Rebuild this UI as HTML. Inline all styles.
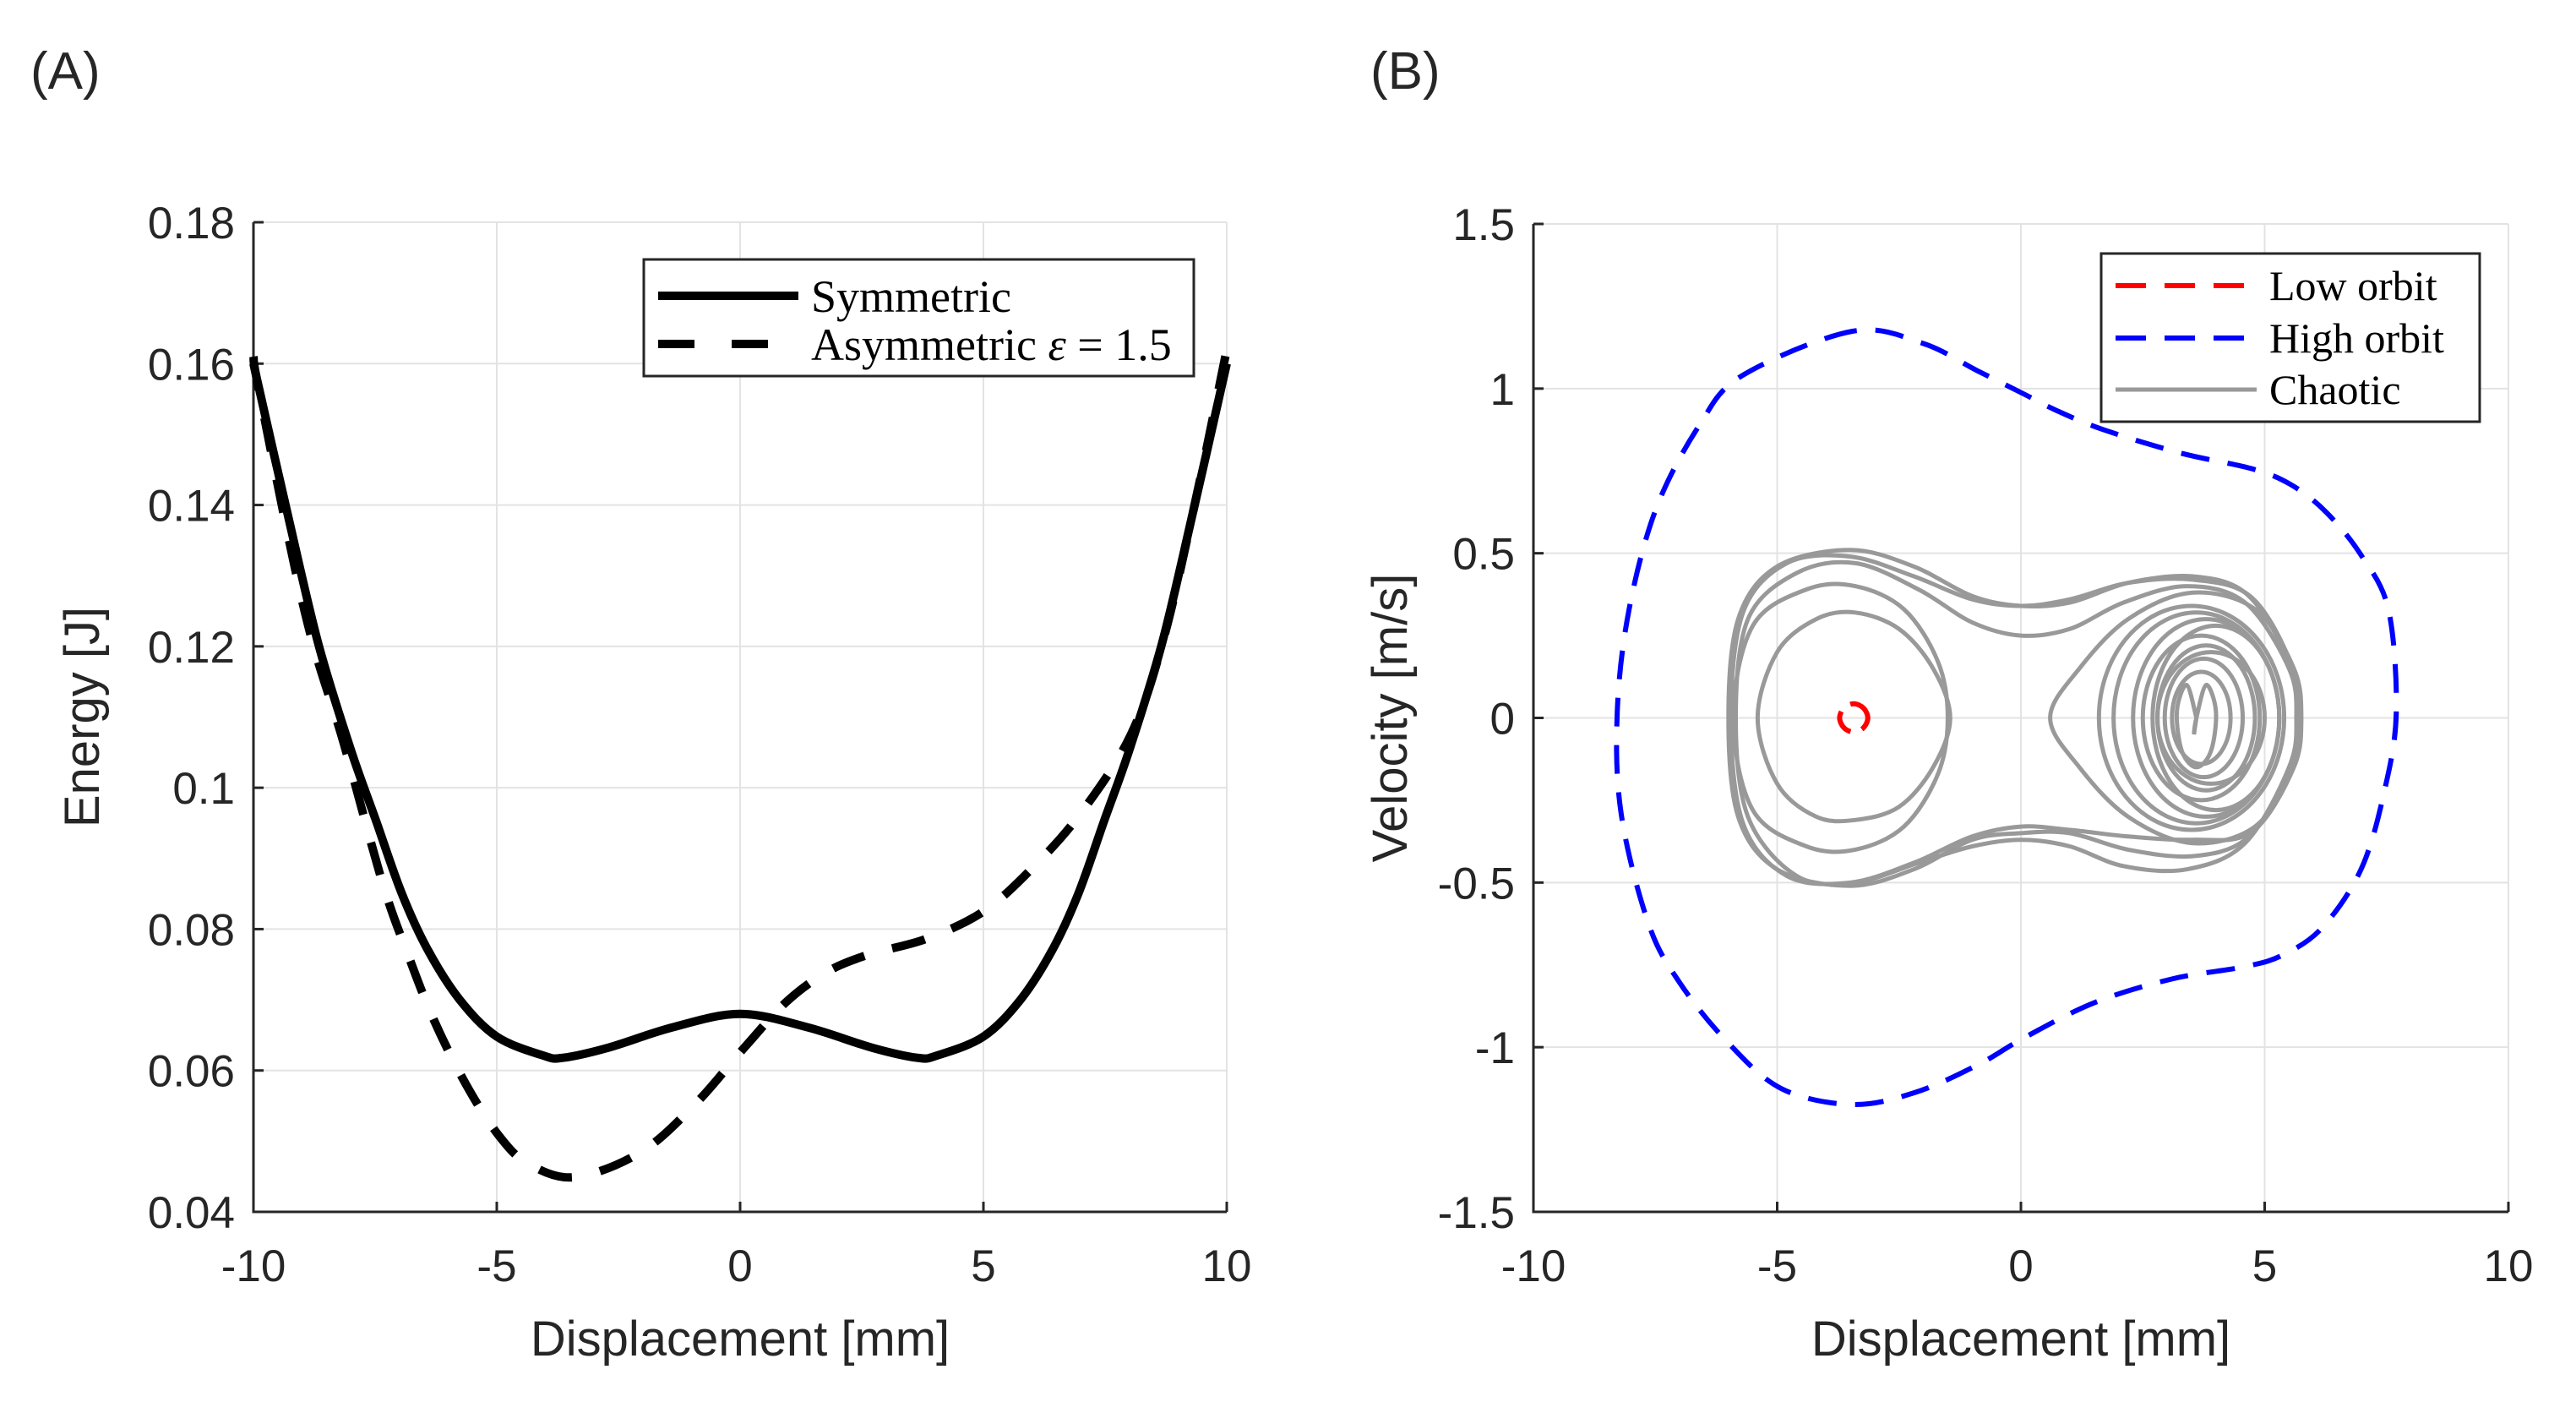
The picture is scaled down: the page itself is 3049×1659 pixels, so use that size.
<!DOCTYPE html>
<html><head><meta charset="utf-8"><style>
html,body{margin:0;padding:0;background:#fff;}
svg{display:block;}
text{font-family:"Liberation Sans",sans-serif;fill:#262626;}
.serif{font-family:"Liberation Serif",serif;fill:#000;}
</style></head><body>
<svg id="fig" width="3049" height="1659" viewBox="0 0 3049 1659" xmlns="http://www.w3.org/2000/svg">
<text x="36" y="105" font-size="62">(A)</text>
<text x="1622" y="105" font-size="62">(B)</text>
<g id="pa"></g>
<g id="pb"></g>
</svg>
<script>
// Panel A data
const aXTicks = [-10, -5, 0, 5, 10];
const aYTicks = [0.04, 0.06, 0.08, 0.1, 0.12, 0.14, 0.16, 0.18];
const aYTickLabels = ["0.04","0.06","0.08","0.1","0.12","0.14","0.16","0.18"];
const symX = [-10,-9.34,-8.68,-8.01,-7.48,-6.95,-6.42,-5.76,-5.0,-4.04,-3.64,-2.72,-1.39,0,1.39,2.72,3.64,4.04,5.0,5.76,6.42,6.95,7.48,8.01,8.68,9.34,10];
const symY = [0.16,0.14,0.1207,0.1056,0.0953,0.085,0.0771,0.070,0.0648,0.0621,0.0618,0.0632,0.0661,0.068,0.0661,0.0632,0.0618,0.0621,0.0648,0.070,0.0771,0.085,0.0953,0.1056,0.1207,0.14,0.16];
const asymX = [-10,-9.87,-8.94,-8.15,-7.35,-6.82,-6.29,-5.63,-4.97,-4.37,-3.41,-2.05,-0.93,0.07,0.95,1.8,2.64,3.82,5,6,7,8.03,8.7,9.37,10];
const asymY = [0.161,0.1556,0.1247,0.1064,0.0866,0.0763,0.0671,0.058,0.0509,0.0469,0.0449,0.0484,0.0552,0.0631,0.0697,0.074,0.0764,0.0786,0.0825,0.0886,0.0964,0.1075,0.121,0.141,0.162];
// Panel B data
const bXTicks = [-10, -5, 0, 5, 10];
const bYTicks = [-1.5, -1, -0.5, 0, 0.5, 1, 1.5];
const bYTickLabels = ["-1.5","-1","-0.5","0","0.5","1","1.5"];
const highX = [-3.46,-5.71,-6.6,-7.48,-8.04,-8.28,-8.2,-7.64,-7.0,-6.03,-4.91,-3.46,-2.18,-0.89,0.07,1.52,3.12,4.57,5.37,6.18,6.98,7.46,7.7,7.54,6.98,6.26,5.53,4.73,3.28,1.68,0.71,0.07,-0.89,-2.02];
const highY = [1.174,1.04,0.888,0.637,0.328,0.018,-0.292,-0.625,-0.804,-0.983,-1.126,-1.174,-1.138,-1.054,-0.971,-0.864,-0.792,-0.756,-0.72,-0.637,-0.459,-0.22,0.018,0.328,0.494,0.625,0.709,0.757,0.804,0.876,0.935,0.983,1.054,1.138];
const lowX = [-3.14,-3.23,-3.43,-3.63,-3.72,-3.63,-3.43,-3.23];
const lowY = [0,0.03,0.043,0.03,0,-0.03,-0.043,-0.03];
const outer1X = [-6.0,-5.8,-5.0,-3.5,-2.2,-1,0,1,2.2,3.5,4.6,5.4,5.7,5.4,4.6,3.5,2.2,1,0,-1,-2.2,-3.5,-5,-5.8];
const outer1Y = [0,0.3,0.46,0.51,0.46,0.37,0.34,0.35,0.41,0.43,0.38,0.2,0,-0.2,-0.37,-0.42,-0.40,-0.35,-0.35,-0.37,-0.46,-0.51,-0.46,-0.3];
const outer2X = [-5.85,-5.6,-4.6,-3.4,-2.1,-1,0,1,2.1,3.4,4.6,5.5,5.65,5.5,4.6,3.4,2.1,1,0,-1,-2.1,-3.4,-4.6,-5.6];
const outer2Y = [0,0.3,0.44,0.47,0.39,0.29,0.25,0.27,0.35,0.40,0.35,0.15,0,-0.15,-0.38,-0.46,-0.45,-0.39,-0.37,-0.39,-0.44,-0.5,-0.48,-0.3];
const outer3X = [-5.95,-5.7,-4.8,-3.5,-2.2,-1,0,1,2.2,3.5,4.7,5.5,5.75,5.5,4.7,3.5,2.2,1,0,-1,-2.2,-3.5,-4.8,-5.7];
const outer3Y = [0,0.32,0.47,0.49,0.43,0.36,0.34,0.36,0.41,0.42,0.37,0.18,0,-0.18,-0.35,-0.37,-0.36,-0.34,-0.33,-0.36,-0.44,-0.5,-0.48,-0.32];
const left1X = [-5.4,-5,-4.2,-3.4,-2.5,-1.8,-1.45,-1.8,-2.5,-3.4,-4.2,-5];
const left1Y = [0,0.2,0.3,0.32,0.27,0.15,0,-0.15,-0.27,-0.31,-0.3,-0.2];
const left2X = [-5.9,-5.5,-4.4,-3.4,-2.4,-1.7,-1.5,-1.7,-2.4,-3.4,-4.4,-5.5];
const left2Y = [0,0.28,0.39,0.4,0.33,0.17,0,-0.17,-0.33,-0.4,-0.39,-0.28];
const right1X = [0.6,1.2,2.2,3.5,4.8,5.6,5.75,5.6,4.8,3.5,2.2,1.2];
const right1Y = [0,0.15,0.3,0.38,0.33,0.15,0,-0.15,-0.33,-0.38,-0.3,-0.15];
const ellCx = [3.8,3.7,3.8,3.75,3.7,4.0,3.6,3.9,3.5];
const ellRx = [1.5,1.2,1.0,0.8,0.6,1.3,1.7,1.1,1.9];
const ellRy = [0.3,0.25,0.22,0.18,0.14,0.28,0.32,0.2,0.34];
const heartX = [3.6,3.4,3.2,3.3,3.6,3.9,4.0,3.8,3.6,3.55,3.6];
const heartY = [0.0,0.1,0.02,-0.1,-0.15,-0.1,0.02,0.1,0.0,-0.05,0];

const NS="http://www.w3.org/2000/svg";
function mk(tag,attrs,parent){const e=document.createElementNS(NS,tag);for(const k in attrs)e.setAttribute(k,attrs[k]);parent.appendChild(e);return e;}
function crPath(pts,closed){
  const n=pts.length;let d="M"+pts[0][0].toFixed(1)+","+pts[0][1].toFixed(1);
  const g=i=>closed?pts[(i+n)%n]:pts[Math.max(0,Math.min(n-1,i))];
  const m=closed?n:n-1;
  for(let i=0;i<m;i++){const p0=g(i-1),p1=g(i),p2=g(i+1),p3=g(i+2);
    const c1=[p1[0]+(p2[0]-p0[0])/6,p1[1]+(p2[1]-p0[1])/6],c2=[p2[0]-(p3[0]-p1[0])/6,p2[1]-(p3[1]-p1[1])/6];
    d+="C"+c1[0].toFixed(1)+","+c1[1].toFixed(1)+" "+c2[0].toFixed(1)+","+c2[1].toFixed(1)+" "+p2[0].toFixed(1)+","+p2[1].toFixed(1);}
  return d+(closed?"Z":"");
}
function axes(g,L,R,T,B,xmin,xmax,ymin,ymax,xt,yt,ytl,ylabel,name){
  const sx=v=>L+(v-xmin)/(xmax-xmin)*(R-L), sy=v=>B-(v-ymin)/(ymax-ymin)*(B-T);
  xt.forEach(v=>{const l=mk('line',{x1:sx(v),x2:sx(v),y1:T,y2:B,stroke:'#e3e3e3','stroke-width':2},g);
    });
  yt.forEach(v=>{const l=mk('line',{x1:L,x2:R,y1:sy(v),y2:sy(v),stroke:'#e3e3e3','stroke-width':2},g);
    });
  const ax=mk('path',{d:`M${L},${T}V${B}H${R}`,fill:'none',stroke:'#262626','stroke-width':3},g);
  
  xt.forEach(v=>{mk('line',{x1:sx(v),x2:sx(v),y1:B,y2:B-12,stroke:'#262626','stroke-width':3},g);
    const t=mk('text',{x:sx(v),y:B+82,'font-size':53,'text-anchor':'middle'},g);t.textContent=String(v);
    });
  yt.forEach((v,i)=>{mk('line',{x1:L,x2:L+12,y1:sy(v),y2:sy(v),stroke:'#262626','stroke-width':3},g);
    const t=mk('text',{x:L-22,y:sy(v)+19,'font-size':53,'text-anchor':'end'},g);t.textContent=ytl[i];
    });
  const xl=mk('text',{x:(L+R)/2,y:B+170,'font-size':58,'text-anchor':'middle'},g);xl.textContent='Displacement [mm]';
  
  const cx=L-(name==='energy'?183:150),cy=(T+B)/2;
  const yl=mk('text',{x:cx,y:cy,'font-size':58,'text-anchor':'middle',transform:`rotate(-90 ${cx} ${cy})`},g);yl.textContent=ylabel;
  
  return [sx,sy];
}
// Panel A
const ga=document.getElementById('pa');
const [ax_,ay_]=axes(ga,300,1452,263,1434,-10,10,0.04,0.18,aXTicks,aYTicks,aYTickLabels,'Energy [J]','energy');
const symP=mk('path',{d:crPath(symX.map((x,i)=>[ax_(x),ay_(symY[i])]),false),fill:'none',stroke:'#000','stroke-width':10,'stroke-linejoin':'round'},ga);

const asP=mk('path',{d:crPath(asymX.map((x,i)=>[ax_(x),ay_(asymY[i])]),false),fill:'none',stroke:'#000','stroke-width':10,'stroke-dasharray':'40 34'},ga);

const lga=mk('g',{},ga);
mk('rect',{x:762,y:307,width:651,height:138,fill:'#fff',stroke:'#262626','stroke-width':3},lga);
mk('line',{x1:779,x2:945,y1:350,y2:350,stroke:'#000','stroke-width':10},lga);
mk('line',{x1:779,x2:945,y1:407,y2:407,stroke:'#000','stroke-width':10,'stroke-dasharray':'43 44'},lga);
let t=mk('text',{x:960,y:369,'font-size':54,class:'serif'},lga);t.textContent='Symmetric';

t=mk('text',{x:960,y:426,'font-size':54,class:'serif'},lga);t.innerHTML='Asymmetric <tspan font-style="italic">ε</tspan> = 1.5';

// Panel B
const gb=document.getElementById('pb');
const [bx,by]=axes(gb,1815,2969,265,1434,-10,10,-1.5,1.5,bXTicks,bYTicks,bYTickLabels,'Velocity [m/s]','velocity');
const toP=(X,Y)=>X.map((x,i)=>[bx(x),by(Y[i])]);
const chaos=mk('g',{fill:'none',stroke:'#999','stroke-width':5},gb);

[[outer1X,outer1Y],[outer2X,outer2Y],[outer3X,outer3Y],[left1X,left1Y],[left2X,left2Y],[right1X,right1Y]].forEach(([X,Y])=>{
  const p=mk('path',{d:crPath(toP(X,Y),true)},chaos);});
ellCx.forEach((c,i)=>{const e=mk('ellipse',{cx:bx(c),cy:by(0),rx:bx(ellRx[i])-bx(0),ry:by(0)-by(ellRy[i])},chaos);
  });
const hp=mk('path',{d:crPath(toP(heartX,heartY),false)},chaos);
const hi=mk('path',{d:crPath(toP(highX,highY),true),fill:'none',stroke:'#0000ff','stroke-width':6,'stroke-dasharray':'34 22'},gb);

const lo=mk('path',{d:crPath(toP(lowX,lowY),true),fill:'none',stroke:'#ff0000','stroke-width':6,'stroke-dasharray':'30 14'},gb);

const lgb=mk('g',{},gb);
mk('rect',{x:2487,y:300,width:448,height:199,fill:'#fff',stroke:'#262626','stroke-width':3},lgb);
mk('line',{x1:2504,x2:2657,y1:338,y2:338,stroke:'#ff0000','stroke-width':6,'stroke-dasharray':'36 22'},lgb);
mk('line',{x1:2504,x2:2657,y1:400,y2:400,stroke:'#0000ff','stroke-width':6,'stroke-dasharray':'36 22'},lgb);
mk('line',{x1:2504,x2:2671,y1:461,y2:461,stroke:'#999','stroke-width':5},lgb);
[['Low orbit',355,'legend-low-orbit'],['High orbit',417,'legend-high-orbit'],['Chaotic',478,'legend-chaotic']].forEach(([s,y,n])=>{
  const tt=mk('text',{x:2686,y:y,'font-size':50,class:'serif'},lgb);tt.textContent=s;
  });
</script>
</body></html>
